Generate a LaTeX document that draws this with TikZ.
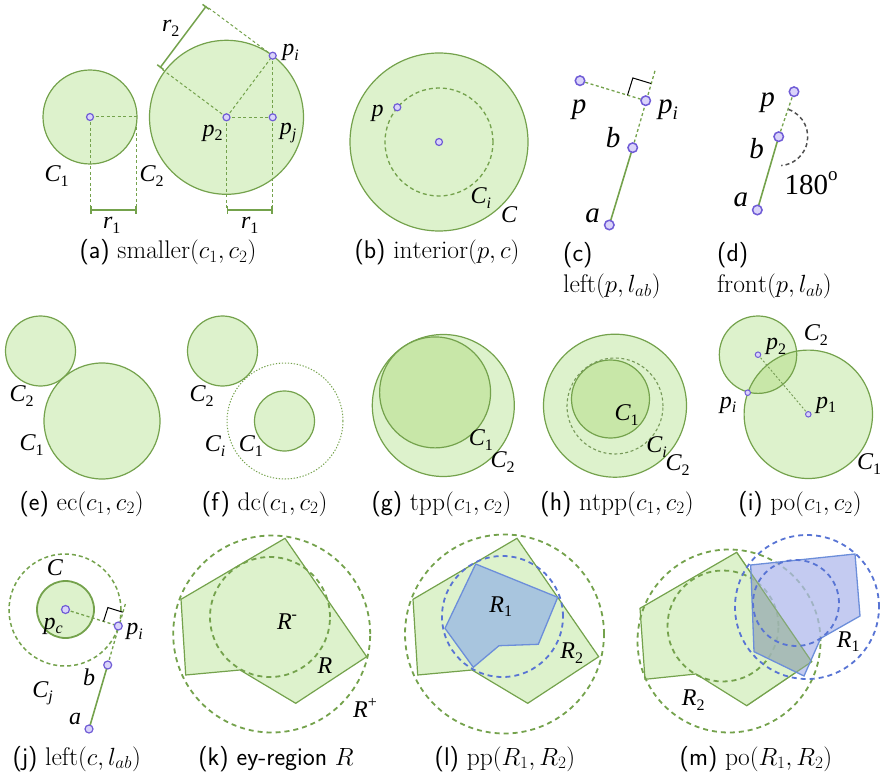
\documentclass[tikz,border=0pt]{standalone}
\usepackage{fontspec}
\newfontfamily\tms{Liberation Serif}
\usetikzlibrary{calc,arrows.meta}
\definecolor{gfill}{RGB}{221,242,204}
\definecolor{gline}{RGB}{116,162,76}
\definecolor{gmid}{RGB}{200,231,168}
\definecolor{pstroke}{RGB}{112,92,214}
\definecolor{pfill}{RGB}{218,212,250}
\definecolor{bfill}{RGB}{168,197,222}
\definecolor{bline}{RGB}{108,142,218}
\definecolor{bdash}{RGB}{88,116,212}
\definecolor{lav}{RGB}{176,186,236}
\definecolor{ovl}{RGB}{150,178,140}
\definecolor{agray}{RGB}{80,80,80}
\newcommand\labA[2]{{\fontsize{24}{24}\selectfont\tms\itshape #1\raisebox{-0.2em}{\fontsize{16}{16}\selectfont #2}}}
\newcommand\labB[2]{{\fontsize{29}{29}\selectfont\tms\itshape #1\raisebox{-0.2em}{\fontsize{19}{19}\selectfont #2}}}
\newcommand\labS[2]{{\fontsize{24}{24}\selectfont\tms\itshape #1\raisebox{0.42em}{\fontsize{16}{16}\selectfont\upshape #2}}}
\begin{document}
\begin{tikzpicture}[x=1pt,y=-1pt,
  region/.style={fill=gfill, draw=gline, line width=1.2pt},
  innerc/.style={fill=gmid, draw=gline, line width=1.2pt},
  gd/.style={draw=gline, line width=1pt, dash pattern=on 3pt off 2.5pt},
  gdc/.style={draw=gline, line width=1.3pt, dash pattern=on 3pt off 2.5pt},
  cdash/.style={draw=gline, line width=1.3pt, dash pattern=on 4pt off 3pt},
  gD/.style={draw=gline, line width=1.8pt, dash pattern=on 5pt off 4pt},
  bD/.style={draw=bdash, line width=1.8pt, dash pattern=on 5pt off 4pt},
  dimline/.style={draw=gline, line width=1.5pt, {Bar[width=8pt]}-{Bar[width=8pt]}},
  seg/.style={draw=gline, line width=1.6pt},
  rmark/.style={draw=black, line width=1pt},
  pnt/.style={circle, draw=pstroke, fill=pfill, line width=1.2pt, inner sep=0pt, minimum size=7pt},
  pntL/.style={pnt, minimum size=9.5pt, line width=1.5pt},
  pntS/.style={pnt, minimum size=5.5pt, line width=1pt},
  lab/.style={inner sep=0pt},
  capt/.style={inner sep=0pt, font=\fontsize{25.5}{30}\selectfont, anchor=base}]
\useasboundingbox (0,0) rectangle (880,775);

% ---------------- (a)
\coordinate (c1) at (90,117);
\coordinate (p2) at (226.5,117.3);
\coordinate (pi) at (272.7,55.7);
\coordinate (pj) at (272.7,117.3);
\coordinate (c1r) at (137,117);
\coordinate (c1d) at (90,210);
\coordinate (c1rt) at (136.5,122);
\coordinate (c1rd) at (136.5,210);
\coordinate (p2d) at (226.5,210);
\coordinate (pjd) at (272.7,210);
\coordinate (d1) at (160,67.8);
\coordinate (d2) at (206.2,6.2);
\draw[region] (c1) circle[radius=47pt];
\draw[region] (p2) circle[radius=77pt];
\draw[gd] (c1) -- (c1r);
\draw[gd] (c1) -- (c1d);
\draw[gd] (c1rt) -- (c1rd);
\draw[gd] (p2) -- (pi);
\draw[gd] (p2) -- (pj);
\draw[gd] (pi) -- (pj);
\draw[gd] (p2) -- (p2d);
\draw[gd] (pj) -- (pjd);
\draw[gd] (p2) -- (d1);
\draw[gd] (pi) -- (d2);
\draw[dimline] (c1d) -- (c1rd);
\draw[dimline] (p2d) -- (pjd);
\draw[dimline] (d1) -- (d2);
\node[pnt] (nc1) at (c1) {};
\node[pnt] (np2) at (p2) {};
\node[pnt] (npi) at (pi) {};
\node[pnt] (npj) at (pj) {};
\node[lab] (lC1a) at (56.7,176) {\labA{C}{\upshape 1}};
\node[lab] (lC2a) at (151.7,176) {\labA{C}{\upshape 2}};
\node[lab] (lr1a) at (111.7,225) {\labA{r}{\upshape 1}};
\node[lab] (lr1b) at (249.7,225) {\labA{r}{\upshape 1}};
\node[lab] (lr2) at (170.8,28.3) {\labA{r}{\upshape 2}};
\node[lab] (lpi) at (290.5,52.5) {\labA{p}{i}};
\node[lab] (lp2) at (212.5,133) {\labA{p}{\upshape 2}};
\node[lab] (lpj) at (288,133) {\labA{p}{j}};
\node[capt] (capa) at (168,259) {\textsf{(a)} $\mathrm{smaller}(c_1,c_2)$};

% ---------------- (b)
\coordinate (cb) at (439,142);
\coordinate (pb) at (397.3,107.3);
\draw[region] (cb) circle[radius=89pt];
\draw[cdash] (cb) circle[radius=54pt];
\node[pnt] (ncb) at (cb) {};
\node[pnt] (npb) at (pb) {};
\node[lab] (lpb) at (377.5,113.3) {\labA{p}{}};
\node[lab] (lCib) at (480.8,198.3) {\labA{C}{i}};
\node[lab] (lCb) at (509,216.7) {\labA{C}{}};
\node[capt] (capb) at (437,259) {\textsf{(b)} $\mathrm{interior}(p,c)$};

% ---------------- (c)
\coordinate (pc) at (580,80.7);
\coordinate (pic) at (645.7,100.7);
\coordinate (bc) at (632.7,147.7);
\coordinate (ac) at (609.3,225);
\coordinate (ec) at (655,70.7);
\draw[seg] (ac) -- (bc);
\draw[gdc] (bc) -- (ec);
\draw[gdc] (pc) -- (pic);
\coordinate (mc1) at ($(pic)!19pt!(pc)$);
\coordinate (mc3) at ($(pic)!18pt!(ec)$);
\coordinate (mc2) at ($(mc1)+(mc3)-(pic)$);
\draw[rmark] (mc1) -- (mc2) -- (mc3);
\node[pntL] (npc) at (pc) {};
\node[pntL] (npic) at (pic) {};
\node[pntL] (nbc) at (bc) {};
\node[pntL] (nac) at (ac) {};
\node[lab] (lpc) at (579,110) {\labB{p}{}};
\node[lab] (lpic) at (668,110) {\labB{p}{i}};
\node[lab] (lbc) at (613,140) {\labB{b}{}};
\node[lab] (lac) at (592.5,219) {\labB{a}{}};
\node[capt, anchor=base west] (capc) at (563,262) {\textsf{(c)}};
\node[capt, anchor=base west] (capc2) at (563,293) {$\mathrm{left}(p,l_{ab})$};

% ---------------- (d)
\coordinate (pd) at (794,91.7);
\coordinate (bd) at (778.7,136.7);
\coordinate (ad) at (757.3,210);
\draw[seg] (ad) -- (bd);
\draw[gdc] (bd) -- (pd);
\draw[agray, line width=1.5pt, dash pattern=on 4pt off 3pt] (bd) ++(70:29pt) arc[start angle=70, end angle=-85, radius=29pt];
\node[pntL] (npd) at (pd) {};
\node[pntL] (nbd) at (bd) {};
\node[pntL] (nad) at (ad) {};
\node[lab] (lpd) at (767.5,102.5) {\labB{p}{}};
\node[lab] (lbd) at (756.7,151.7) {\labB{b}{}};
\node[lab] (lad) at (740.8,202.5) {\labB{a}{}};
\node[lab] (l180) at (811,183.3) {\fontsize{29}{29}\selectfont\tms 180\raisebox{0.5em}{\fontsize{19}{19}\selectfont o}};
\node[capt, anchor=base west] (capd) at (717,262) {\textsf{(d)}};
\node[capt, anchor=base west] (capd2) at (717,293) {$\mathrm{front}(p,l_{ab})$};

% ---------------- (e)
\coordinate (ce2) at (40.5,351);
\coordinate (ce1) at (102,421);
\draw[region] (ce2) circle[radius=35pt];
\draw[region] (ce1) circle[radius=58pt];
\node[lab] (lC2e) at (21.7,395.8) {\labA{C}{\upshape 2}};
\node[lab] (lC1e) at (31.7,445) {\labA{C}{\upshape 1}};
\node[capt] (cape) at (81.7,510) {\textsf{(e)} $\mathrm{ec}(c_1,c_2)$};

% ---------------- (f)
\coordinate (cf2) at (222.5,351);
\coordinate (cfi) at (285,421);
\coordinate (cf1) at (284.5,421);
\draw[region] (cf2) circle[radius=35pt];
\draw[draw=gline, line width=1pt, dash pattern=on 1.3pt off 1.7pt] (cfi) circle[radius=58pt];
\draw[region] (cf1) circle[radius=30pt];
\node[lab] (lC2f) at (201.7,395.8) {\labA{C}{\upshape 2}};
\node[lab] (lCif) at (215,446) {\labA{C}{i}};
\node[lab] (lC1f) at (250.8,446) {\labA{C}{\upshape 1}};
\node[capt] (capf) at (264.7,510) {\textsf{(f)} $\mathrm{dc}(c_1,c_2)$};

% ---------------- (g)
\coordinate (cg2) at (443.3,405.5);
\coordinate (cg1) at (435.1,392.4);
\draw[region] (cg2) circle[radius=71pt];
\draw[innerc] (cg1) circle[radius=55.5pt];
\node[lab] (lC1g) at (480.8,440) {\labA{C}{\upshape 1}};
\node[lab] (lC2g) at (502.5,461.7) {\labA{C}{\upshape 2}};
\node[capt] (capg) at (441.5,510) {\textsf{(g)} $\mathrm{tpp}(c_1,c_2)$};

% ---------------- (h)
\coordinate (ch2) at (615,405.7);
\coordinate (ch1) at (610.5,399);
\coordinate (chi) at (615,406);
\draw[region] (ch2) circle[radius=71.5pt];
\draw[innerc] (ch1) circle[radius=39pt];
\draw[draw=gline!75!gray, line width=1.1pt, dash pattern=on 3pt off 2.5pt] (chi) circle[radius=48pt];
\node[lab] (lC1h) at (626.7,415) {\labA{C}{\upshape 1}};
\node[lab] (lCih) at (656.7,446.7) {\labA{C}{i}};
\node[lab] (lC2h) at (677.5,465) {\labA{C}{\upshape 2}};
\node[capt] (caph) at (617,510) {\textsf{(h)} $\mathrm{ntpp}(c_1,c_2)$};

% ---------------- (i)
\coordinate (ci2) at (758,354.7);
\coordinate (ci1) at (808.3,414.3);
\coordinate (pii) at (747.7,392.7);
\fill[gfill] (ci1) circle[radius=64.2pt];
\fill[gfill] (ci2) circle[radius=38.7pt];
\begin{scope}
\clip (ci2) circle[radius=38.7pt];
\fill[gmid] (ci1) circle[radius=64.2pt];
\end{scope}
\draw[gline, line width=1.2pt] (ci1) circle[radius=64.2pt];
\draw[gline, line width=1.2pt] (ci2) circle[radius=38.7pt];
\draw[draw=gline!80!gray, line width=0.9pt, dash pattern=on 2pt off 2pt] (ci2) -- (ci1);
\node[pntS] (nci2) at (ci2) {};
\node[pntS] (nci1) at (ci1) {};
\node[pntS] (npii) at (pii) {};
\node[lab] (lp2i) at (776,346.7) {\labA{p}{\upshape 2}};
\node[lab] (lC2i) at (815.8,335) {\labA{C}{\upshape 2}};
\node[lab] (lpii) at (728,405) {\labA{p}{i}};
\node[lab] (lp1i) at (826,405) {\labA{p}{\upshape 1}};
\node[lab] (lC1i) at (869,464) {\labA{C}{\upshape 1}};
\node[capt] (capi) at (800,510) {\textsf{(i)} $\mathrm{po}(c_1,c_2)$};

% ---------------- (j)
\coordinate (cj) at (65,610);
\coordinate (pcj) at (65.5,609.5);
\coordinate (pij) at (118.3,626);
\coordinate (bj) at (107.7,665);
\coordinate (aj) at (89,729);
\coordinate (ej) at (126,601.7);
\draw[draw=gline, line width=1.5pt, dash pattern=on 4pt off 3pt] (cj) circle[radius=56pt];
\draw[region, line width=1.8pt] (pcj) circle[radius=28.5pt];
\draw[seg] (aj) -- (bj);
\draw[gdc] (bj) -- (ej);
\draw[gdc] (pcj) -- (pij);
\coordinate (mj1) at ($(pij)!15.5pt!(pcj)$);
\coordinate (mj3) at ($(pij)!14.5pt!(ej)$);
\coordinate (mj2) at ($(mj1)+(mj3)-(pij)$);
\draw[rmark] (mj1) -- (mj2) -- (mj3);
\node[pnt, minimum size=8pt] (npcj) at (pcj) {};
\node[pnt, minimum size=8pt] (npij) at (pij) {};
\node[pnt, minimum size=8pt] (nbj) at (bj) {};
\node[pnt, minimum size=8pt] (naj) at (aj) {};
\node[lab] (lCj) at (55,570) {\labA{C}{}};
\node[lab] (lpcj) at (53.3,626) {\labA{p}{c}};
\node[lab] (lpij) at (134.5,631.7) {\labA{p}{i}};
\node[lab] (lbj) at (89,680) {\labA{b}{}};
\node[lab] (lCjj) at (42.5,693.3) {\labA{C}{j}};
\node[lab] (laj) at (75,721.7) {\labA{a}{}};
\node[capt] (capj) at (76.7,765) {\textsf{(j)} $\mathrm{left}(c,l_{ab})$};

% ---------------- (k)
\coordinate (k1) at (181,599.3);
\coordinate (k2) at (285,538.3);
\coordinate (k3) at (366.7,656.7);
\coordinate (k4) at (295.7,703.3);
\coordinate (k5) at (240,670);
\coordinate (k6) at (185.7,675);
\draw[region] (k1) -- (k2) -- (k3) -- (k4) -- (k5) -- (k6) -- cycle;
\coordinate (ko) at (271.7,634);
\coordinate (ki) at (270,617);
\draw[gD] (ko) circle[radius=98.5pt];
\draw[gD] (ki) circle[radius=60pt];
\node[lab] (lRm) at (287,621.7) {\labS{R}{-}};
\node[lab] (lRk) at (325,668.3) {\labA{R}{}};
\node[lab] (lRp) at (365,708.3) {\labS{R}{+}};
\node[capt] (capk) at (276,765) {\textsf{(k) ey-region} $R$};

% ---------------- (l)
\coordinate (l1) at ($(k1)+(232,0)$);
\coordinate (l2) at ($(k2)+(232,0)$);
\coordinate (l3) at ($(k3)+(232,0)$);
\coordinate (l4) at ($(k4)+(232,0)$);
\coordinate (l5) at ($(k5)+(232,0)$);
\coordinate (l6) at ($(k6)+(232,0)$);
\draw[region] (l1) -- (l2) -- (l3) -- (l4) -- (l5) -- (l6) -- cycle;
\coordinate (b1) at (475.7,564);
\coordinate (b2) at (557.7,597.3);
\coordinate (b3) at (538.3,644.3);
\coordinate (b4) at (499,645.7);
\coordinate (b5) at (473.3,667.3);
\coordinate (b6) at (445,628.3);
\draw[fill=bfill, draw=bline, line width=1.3pt] (b1) -- (b2) -- (b3) -- (b4) -- (b5) -- (b6) -- cycle;
\coordinate (lo) at (504.5,634);
\coordinate (li) at (502.5,616.5);
\draw[gD] (lo) circle[radius=99.5pt];
\draw[bD] (li) circle[radius=60.5pt];
\node[lab] (lR1l) at (500.8,606.7) {\labA{R}{\upshape 1}};
\node[lab] (lR2l) at (571.7,653.3) {\labA{R}{\upshape 2}};
\node[capt] (capl) at (505,765) {\textsf{(l)} $\mathrm{pp}(R_1,R_2)$};

% ---------------- (m)
\coordinate (m1) at (640,608.3);
\coordinate (m2) at (736.7,552.3);
\coordinate (m3) at (811.7,661.7);
\coordinate (m4) at (746.7,705.7);
\coordinate (m5) at (696,674);
\coordinate (m6) at (645,679.3);
\draw[region] (m1) -- (m2) -- (m3) -- (m4) -- (m5) -- (m6) -- cycle;
\coordinate (mo) at (729,641);
\coordinate (mi) at (723,626);
\draw[gD] (mo) circle[radius=91.5pt];
\draw[gD] (mi) circle[radius=55.5pt];
\coordinate (n1) at (750.7,565);
\coordinate (n2) at (855,554);
\coordinate (n3) at (860,616);
\coordinate (n4) at (820.7,638.3);
\coordinate (n5) at (804,676);
\coordinate (n6) at (754,651.7);
\fill[lav, fill opacity=0.75] (n1) -- (n2) -- (n3) -- (n4) -- (n5) -- (n6) -- cycle;
\begin{scope}
\clip (m1) -- (m2) -- (m3) -- (m4) -- (m5) -- (m6) -- cycle;
\fill[ovl, fill opacity=0.5] (n1) -- (n2) -- (n3) -- (n4) -- (n5) -- (n6) -- cycle;
\end{scope}
\draw[gline, line width=1.1pt, draw opacity=0.6] (m2) -- (m3) -- (m4);
\draw[bline, line width=1.3pt] (n1) -- (n2) -- (n3) -- (n4) -- (n5) -- (n6) -- cycle;
\coordinate (no) at (807,607);
\coordinate (ni) at (796,603);
\draw[bD] (no) circle[radius=72pt];
\draw[bD] (ni) circle[radius=43pt];
\node[lab] (lR1m) at (848.3,641.7) {\labA{R}{\upshape 1}};
\node[lab] (lR2m) at (693.3,700) {\labA{R}{\upshape 2}};
\node[capt] (capm) at (756,765) {\textsf{(m)} $\mathrm{po}(R_1,R_2)$};
\end{tikzpicture}
\end{document}
